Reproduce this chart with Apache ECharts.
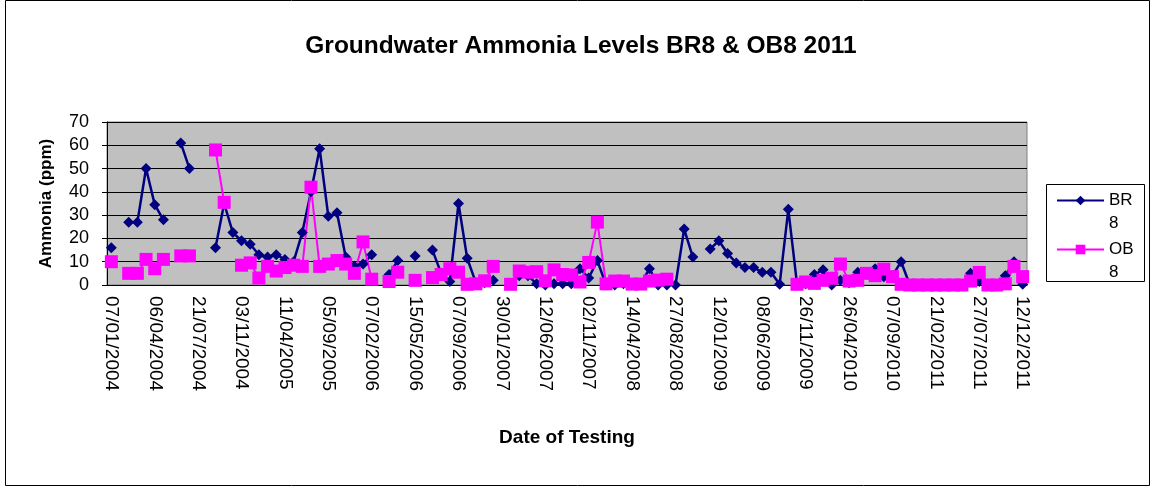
<!DOCTYPE html>
<html>
<head>
<meta charset="utf-8">
<script src="https://cdn.jsdelivr.net/npm/echarts@6/dist/echarts.min.js"></script>
<style>
  html, body { margin: 0; padding: 0; background: #fff; }
  #chart { width: 1151px; height: 487px; }
</style>
</head>
<body>
<div id="chart"></div>
<script>
// tick labels shown on every 5th sample (106 samples)
const tickLabels = [
  '07/01/2004', '06/04/2004', '21/07/2004', '03/11/2004', '11/04/2005', '05/09/2005',
  '07/02/2006', '15/05/2006', '07/09/2006', '30/01/2007', '12/06/2007', '02/11/2007',
  '14/04/2008', '27/08/2008', '12/01/2009', '08/06/2009', '26/11/2009', '26/04/2010',
  '07/09/2010', '21/02/2011', '27/07/2011', '12/12/2011'
]
const sampleCount = 106
const categories = Array.from({ length: sampleCount }, (_, i) => String(i + 1))

const br8 = [
  16, null, 27, 27, 50, 34.5, 28, null, 61, 50,
  null, null, 16, 35, 22.5, 19, 17.5, 13, 12, 13,
  11, 10, 22.5, 40, 58.5, 29.5, 31, 12, 8, 9,
  13, null, 4.5, 10.5, null, 12.5, null, 15, 5, 1.5,
  35, 11.5, 1, 1, 2, null, 0.5, 4, 4, 0.5,
  0, 0.5, 0.5, 0.5, 7, 3, 10.5, 0, 0, 0.5,
  0.5, 0.5, 7, 0, 0, 0, 24, 12, null, 15.5,
  19, 13.5, 9.5, 7.5, 7.5, 5.5, 5.5, 0.3, 32.5, 0.5,
  0.5, 4.5, 6.5, 0, 2, 1, 5.5, 5, 7, 3.5,
  4, 10, 0, 0, 0, 0, 0, 0, 0, 5,
  1.5, 0, 0, 4, 10, 0.3
]
const ob8 = [
  10, null, 5, 5, 11, 7, 11, null, 12.5, 12.5,
  null, null, 58, 35.5, null, 8.5, 9.5, 3, 8, 6,
  7.5, 8.5, 8, 42, 8, 9, 10.5, 9, 5, 18.5,
  2.5, null, 1.5, 5.5, null, 2, null, 3.2, 4.5, 7,
  5.5, 0.3, 0.5, 1.8, 8, null, 0.3, 6, 5.5, 5.7,
  1.8, 6.5, 4.5, 4.3, 1.3, 9.7, 27, 0.5, 1.7, 1.7,
  0.4, 0.4, 1.7, 2.1, 2.5, null, null, null, null, null,
  null, null, null, null, null, null, null, null, null, 0.3,
  1.3, 0.7, 2, 2.9, 9, 1.7, 2, 5, 4, 6.8,
  3.6, 0.3, 0, 0, 0, 0, 0, 0, 0, 1.7,
  5.4, 0, 0, 0.5, 8, 3.6
]

const font = 'Liberation Sans, Arial, sans-serif'

const chart = echarts.init(document.getElementById('chart'))
const option = {
  animation: false,
  textStyle: { fontFamily: font },
  title: {
    text: 'Groundwater Ammonia Levels BR8 & OB8 2011',
    left: 576,
    textAlign: 'center',
    top: 29,
    textStyle: { fontSize: 24.5, fontWeight: 'bold', color: '#000', fontFamily: font }
  },
  graphic: [
    {
      // outer chart frame
      type: 'rect',
      shape: { x: 5.5, y: 0.5, width: 1144, height: 485 },
      style: { fill: 'none', stroke: '#000', lineWidth: 1 },
      silent: true,
      z: -10
    },
    {
      // legend box
      type: 'rect',
      shape: { x: 1046.5, y: 184.5, width: 98, height: 97 },
      style: { fill: '#fff', stroke: '#000', lineWidth: 1 },
      silent: true,
      z: -5
    }
  ],
  legend: {
    orient: 'vertical',
    left: 1056,
    top: 166,
    padding: 0,
    itemGap: -20,
    itemWidth: 47,
    itemHeight: 12,
    // blank first line keeps the icon level with the first text line
    formatter: name => ' \n' + name.slice(0, 2) + '\n' + name.slice(2),
    textStyle: { fontSize: 17, lineHeight: 23, color: '#000', padding: 0, fontFamily: font },
    data: ['BR8', 'OB8']
  },
  grid: {
    left: 107,
    right: 124,
    top: 122,
    bottom: 202,
    show: true,
    backgroundColor: '#c0c0c0',
    borderColor: '#808080',
    borderWidth: 1
  },
  xAxis: {
    type: 'category',
    data: categories,
    boundaryGap: true,
    name: 'Date of Testing',
    nameLocation: 'middle',
    nameGap: 143,
    nameTextStyle: { fontSize: 19, fontWeight: 'bold', color: '#000' },
    axisLine: { lineStyle: { color: '#000', width: 1 } },
    axisTick: { interval: 2, length: 5, lineStyle: { color: '#000' } },
    axisLabel: {
      interval: 4,
      rotate: -90,
      margin: 11,
      fontSize: 19,
      color: '#000',
      formatter: (value, index) => tickLabels[index / 5] || ''
    },
    splitLine: { show: false }
  },
  yAxis: {
    type: 'value',
    min: 0,
    max: 70,
    interval: 10,
    name: 'Ammonia (ppm)',
    nameLocation: 'middle',
    nameGap: 52,
    nameTextStyle: { fontSize: 17, fontWeight: 'bold', color: '#000' },
    axisLine: { show: true, lineStyle: { color: '#000', width: 1 } },
    axisTick: { show: true, length: 5, lineStyle: { color: '#000' } },
    axisLabel: { fontSize: 18, color: '#000', margin: 18 },
    splitLine: { lineStyle: { color: '#000', width: 1 } }
  },
  series: [
    {
      name: 'BR8',
      type: 'line',
      data: br8,
      connectNulls: false,
      showAllSymbol: true,
      symbol: 'diamond',
      symbolSize: 11,
      itemStyle: { color: '#000080' },
      lineStyle: { color: '#000080', width: 2.5 }
    },
    {
      name: 'OB8',
      type: 'line',
      data: ob8,
      connectNulls: false,
      showAllSymbol: true,
      symbol: 'rect',
      symbolSize: 13,
      itemStyle: { color: '#ff00ff' },
      lineStyle: { color: '#ff00ff', width: 2 }
    }
  ]
}
chart.setOption(option)
</script>
</body>
</html>
